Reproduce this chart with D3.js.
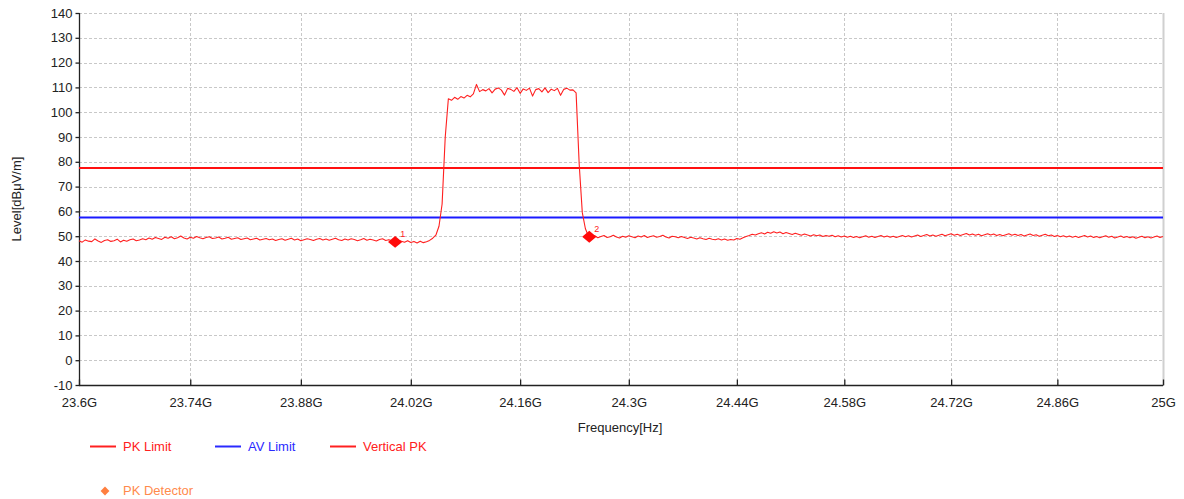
<!DOCTYPE html>
<html><head><meta charset="utf-8">
<script src="https://cdn.jsdelivr.net/npm/d3@7"></script>
<style>
html,body{margin:0;padding:0;background:#fff;}
text{font-family:"Liberation Sans",Arial,sans-serif;}
</style></head>
<body><svg id="c" width="1184" height="499"></svg>
<script>
// ---- data ----
const xTickValues = [23.6, 23.74, 23.88, 24.02, 24.16, 24.3, 24.44, 24.58, 24.72, 24.86, 25];
const xTickLabels = ["23.6G","23.74G","23.88G","24.02G","24.16G","24.3G","24.44G","24.58G","24.72G","24.86G","25G"];
const yTickValues = [-10,0,10,20,30,40,50,60,70,80,90,100,110,120,130,140];
const pkLimit = 77.5;
const avLimit = 57.5;
const sweepStartGHz = 23.6;
const sweepStepGHz = 0.004;
const verticalPK = [
// 23.600 .. 24.044
48.2,47.6,48.5,48.0,47.8,48.9,48.1,47.5,48.3,48.6,47.9,48.2,48.8,47.7,48.4,48.0,48.6,48.9,48.2,48.5,
49.0,48.6,49.3,48.8,49.5,49.1,48.7,49.6,49.2,49.8,49.0,49.4,50.1,49.3,48.9,49.6,49.2,49.9,49.4,49.0,
49.5,49.8,49.1,49.3,49.7,48.9,49.2,49.6,48.8,49.1,49.4,48.7,49.0,49.3,48.6,48.9,49.2,48.5,48.8,49.1,
48.6,48.9,48.3,48.7,49.0,48.4,48.8,49.2,48.5,48.9,48.2,48.6,49.0,48.7,48.3,48.8,49.1,48.5,48.9,48.4,
48.8,49.2,48.6,48.3,48.9,48.5,49.0,48.7,48.2,48.6,49.1,48.4,48.8,48.5,48.1,48.7,49.0,48.3,48.6,48.2,
47.8,48.4,48.0,47.6,48.2,47.5,47.9,47.3,48.0,47.4,47.8,48.3,
// rise
49.2,50.4,54.0,63.0,90.0,
// top
105.4,104.8,106.0,105.2,106.3,105.7,106.8,106.2,107.4,
111.2,
108.3,109.1,108.6,109.5,107.8,109.3,109.8,108.9,106.9,109.6,109.2,108.4,109.9,107.6,109.4,
108.8,109.7,106.5,109.1,109.5,108.2,109.8,107.9,109.3,108.7,109.6,106.8,109.2,109.7,108.9,
// fall
109.0,107.8,79.0,59.5,53.0,50.0,
// 24.252 .. 25.000
49.6,50.2,49.4,49.9,50.3,49.5,49.8,50.4,49.7,49.3,50.0,49.6,50.2,49.8,49.4,50.1,49.7,50.3,49.5,49.9,
50.2,49.6,49.9,50.4,49.7,49.3,50.0,49.8,49.4,49.9,49.5,49.1,49.6,49.3,48.9,49.4,49.0,48.7,49.2,48.8,
48.6,49.0,48.5,48.9,48.4,48.7,48.5,49.1,48.8,49.4,49.9,50.3,50.8,50.5,51.0,51.4,50.9,51.6,51.2,51.8,
51.3,51.7,51.0,51.5,51.1,50.7,51.2,50.8,50.4,50.9,50.5,50.1,50.6,50.2,50.5,49.9,50.3,50.0,50.4,49.8,
50.2,49.7,50.1,49.6,50.0,49.5,49.9,49.4,49.8,50.2,49.6,50.0,49.5,49.9,50.3,49.7,50.1,49.6,50.0,49.5,
49.9,50.3,49.8,50.2,49.7,50.1,50.5,49.9,50.3,50.7,50.1,50.5,50.0,50.4,50.8,50.2,50.6,51.0,50.4,50.8,
50.3,50.7,51.1,50.5,50.9,50.4,50.8,50.2,50.6,51.0,50.5,50.9,50.3,50.7,50.2,50.6,51.0,50.4,50.8,50.3,
50.7,50.1,50.5,50.9,50.3,50.6,50.0,50.4,50.8,50.2,50.5,49.9,50.3,49.8,50.2,49.7,50.1,49.6,50.0,49.5,
49.9,50.3,49.7,50.1,49.5,49.9,49.4,49.8,50.2,49.6,50.0,49.3,49.7,50.1,49.5,49.9,49.4,49.8,49.2,49.6,
50.0,49.4,49.8,49.3,49.7,50.1,49.5,49.9
];
const markerFreqs = [24.000, 24.249];
const markerLevels = [47.7, 49.8];
const markerLabels = ["1", "2"];
const legendRow1 = ["PK Limit", "AV Limit", "Vertical PK"];
const legendRow2 = ["PK Detector"];

// ---- chart ----
const svg = d3.select("#c");
const L = 79, R = 1163, T = 13, B = 385;
const x = d3.scaleLog().domain([23.6, 25]).range([L, R]);
const y = d3.scaleLinear().domain([-10, 140]).range([B, T]);
const font = '"Liberation Sans",Arial,sans-serif';

// grid
const grid = svg.append("g");
grid.selectAll("line.h").data(yTickValues.filter(v => v > -10)).join("line")
  .attr("x1", L).attr("x2", R).attr("y1", d => Math.round(y(d)) + 0.5).attr("y2", d => Math.round(y(d)) + 0.5)
  .attr("stroke", "#c8c8c8").attr("stroke-dasharray", "3,2").attr("stroke-width", 1);
grid.selectAll("line.v").data(xTickValues.slice(1, -1)).join("line")
  .attr("x1", d => Math.round(x(d)) + 0.5).attr("x2", d => Math.round(x(d)) + 0.5).attr("y1", T).attr("y2", B)
  .attr("stroke", "#c8c8c8").attr("stroke-dasharray", "3,2").attr("stroke-width", 1);
// right border
svg.append("line").attr("x1", R + 0.5).attr("x2", R + 0.5).attr("y1", T).attr("y2", B)
  .attr("stroke", "#d0d0d0").attr("stroke-width", 2);

// axes
const yAxis = d3.axisLeft(y).tickValues(yTickValues).tickSize(4).tickPadding(3).tickFormat(d => String(d));
const gy = svg.append("g").attr("transform", `translate(${L + 0.5},0)`).call(yAxis);
const xAxis = d3.axisBottom(x).tickValues(xTickValues).tickSize(-6).tickPadding(12)
  .tickFormat((d, i) => xTickLabels[i]);
const gx = svg.append("g").attr("transform", `translate(0,${B + 0.5})`).call(xAxis);
[gx, gy].forEach(g => {
  g.select(".domain").attr("stroke", "#222").attr("stroke-width", 1.3);
  g.selectAll(".tick line").attr("stroke", "#222").attr("stroke-width", 1.3);
  g.selectAll(".tick text").attr("fill", "#222").style("font-size", "13px").style("font-family", font);
});
gy.select(".domain").attr("d", `M0,${T}V${B}`);
gx.select(".domain").attr("d", `M${L},0H${R}`);

// limits
svg.append("line").attr("x1", L).attr("x2", R).attr("y1", y(pkLimit)).attr("y2", y(pkLimit))
  .attr("stroke", "#ff1010").attr("stroke-width", 2);
svg.append("line").attr("x1", L).attr("x2", R).attr("y1", y(avLimit)).attr("y2", y(avLimit))
  .attr("stroke", "#1a1aff").attr("stroke-width", 2);

// trace
const trace = verticalPK.map((v, i) => [sweepStartGHz + i * sweepStepGHz, v]);
svg.append("path").datum(trace)
  .attr("fill", "none").attr("stroke", "#ff2020").attr("stroke-width", 1.1).attr("stroke-linejoin", "round")
  .attr("d", d3.line().x(d => x(d[0])).y(d => y(d[1])));

// markers
const mk = markerFreqs.map((f, i) => ({f, v: markerLevels[i], l: markerLabels[i]}));
svg.selectAll("path.mk").data(mk).join("path")
  .attr("d", d3.symbol().type(d3.symbolDiamond2).size(90))
  .attr("transform", d => `translate(${x(d.f)},${y(d.v)}) scale(1.2,1)`)
  .attr("fill", "#ff0a0a");
svg.selectAll("text.mk").data(mk).join("text")
  .attr("x", d => x(d.f) + 5).attr("y", d => y(d.v) - 5)
  .attr("font-size", 9).attr("fill", "#ff2020").text(d => d.l);

// axis titles
svg.append("text").attr("x", 620).attr("y", 432).attr("text-anchor", "middle")
  .attr("font-size", 13).attr("fill", "#222").text("Frequency[Hz]");
svg.append("text").attr("transform", "translate(21,199) rotate(-90)").attr("text-anchor", "middle")
  .attr("font-size", 13).attr("fill", "#222").text("Level[dBμV/m]");

// legend
const legColors = ["#ff2020", "#2a2aff", "#ff2020"];
const legX = [90, 215, 330];
legendRow1.forEach((name, i) => {
  svg.append("line").attr("x1", legX[i]).attr("x2", legX[i] + 26).attr("y1", 446.5).attr("y2", 446.5)
    .attr("stroke", legColors[i]).attr("stroke-width", 2);
  svg.append("text").attr("x", legX[i] + 33).attr("y", 451).attr("font-size", 13)
    .attr("fill", legColors[i]).text(name);
});
legendRow2.forEach(name => {
  svg.append("path").attr("d", d3.symbol().type(d3.symbolDiamond2).size(50))
    .attr("transform", "translate(105,491)").attr("fill", "#ff7f3f");
  svg.append("text").attr("x", 123).attr("y", 495).attr("font-size", 13).attr("fill", "#ff8a4c").text(name);
});
</script></body></html>
